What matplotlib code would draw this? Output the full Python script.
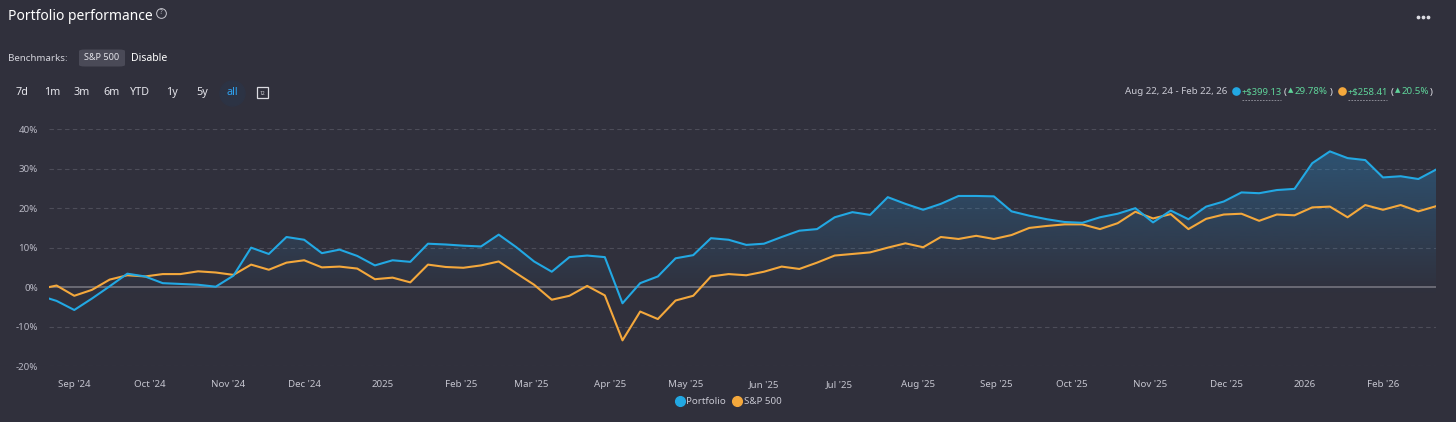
import numpy as np
import pandas as pd
import matplotlib
matplotlib.use("Agg")
import matplotlib.pyplot as plt
import matplotlib.dates as mdates
from matplotlib.lines import Line2D
from matplotlib.patches import FancyBboxPatch, Rectangle

plt.rcParams['font.family'] = ['Noto Sans', 'DejaVu Sans']

# weekly points (Sundays) plus the start and end of the selected range
dates = ([pd.Timestamp("2024-08-22")]
         + list(pd.date_range("2024-08-25", "2026-02-15", freq="7D"))
         + [pd.Timestamp("2026-02-22")])

portfolio = [-2.9, -3.5, -5.8, -2.9, 0.2, 3.4, 2.7, 1.0, 0.8, 0.6,
             0.1, 2.9, 10.0, 8.4, 12.7, 12.0, 8.6, 9.5, 7.9, 5.5,
             6.8, 6.4, 11.0, 10.8, 10.5, 10.3, 13.3, 10.1, 6.5, 3.9,
             7.6, 8.0, 7.6, -4.1, 1.0, 2.7, 7.3, 8.1, 12.4, 12.0,
             10.7, 11.0, 12.7, 14.3, 14.7, 17.7, 19.0, 18.3, 22.8, 21.1,
             19.6, 21.1, 23.1, 23.1, 23.0, 19.2, 18.1, 17.2, 16.5, 16.3,
             17.7, 18.6, 20.0, 16.4, 19.4, 17.2, 20.4, 21.7, 24.0, 23.8,
             24.6, 24.9, 31.4, 34.4, 32.7, 32.2, 27.8, 28.1, 27.4, 29.78]

sp500 = [0.0, 0.4, -2.2, -0.7, 1.9, 3.0, 2.7, 3.3, 3.3, 4.0,
         3.7, 3.1, 5.7, 4.4, 6.2, 6.8, 5.0, 5.2, 4.7, 2.0,
         2.4, 1.2, 5.7, 5.1, 4.9, 5.5, 6.5, 3.5, 0.6, -3.2,
         -2.2, 0.3, -2.1, -13.5, -6.2, -8.1, -3.4, -2.2, 2.7, 3.3,
         3.0, 3.9, 5.2, 4.6, 6.2, 8.0, 8.4, 8.8, 10.0, 11.1,
         10.1, 12.7, 12.2, 13.0, 12.2, 13.2, 15.0, 15.5, 15.9, 15.9,
         14.7, 16.2, 19.1, 17.4, 18.5, 14.7, 17.3, 18.4, 18.6, 16.8,
         18.4, 18.2, 20.2, 20.4, 17.7, 20.8, 19.6, 20.8, 19.2, 20.5]

y_ticks = [-20, -10, 0, 10, 20, 30, 40]
month_ticks = pd.date_range("2024-09-01", "2026-02-01", freq="MS")
ranges = ["7d", "1m", "3m", "6m", "YTD", "1y", "5y", "all"]
range_x = [22, 52, 82, 112, 140, 172, 202, 232]

BG = "#30303c"
BLUE = "#22a8e3"
ORANGE = "#f4a83c"
GREEN = "#5fd49a"
W, H = 1456, 422


def fx(px):
    return px / W


def fy(py):
    return 1 - py / H


def dot(px, py, size, **kw):
    # round marker placed in figure pixels
    fig.lines.append(Line2D([fx(px)], [fy(py)], ls="", marker="o", ms=size,
                            transform=fig.transFigure, **kw))


fig = plt.figure(figsize=(W / 100, H / 100), dpi=100, facecolor=BG)
ax = fig.add_axes([fx(49), fy(366), (1436 - 49) / W, (366 - 129.3) / H])
ax.set_facecolor(BG)

x = mdates.date2num(dates)
ax.set_xlim(x[0], x[-1])
ax.set_ylim(-20, 40)

# gradient area under the portfolio line
poly = ax.fill_between(x, portfolio, -20, color="none", lw=0)
yy = np.linspace(-20, 40, 300)
alpha = np.clip((yy + 2) / 42 * 0.42, 0, 0.42)
rgba = np.zeros((300, 1, 4))
rgba[:, 0, :3] = matplotlib.colors.to_rgb("#2a8fd0")
rgba[:, 0, 3] = alpha
img = ax.imshow(rgba, extent=[x[0], x[-1], -20, 40], origin="lower",
                aspect="auto", zorder=1)
img.set_clip_path(poly.get_paths()[0], transform=ax.transData)

for t in y_ticks:
    if t != 0:
        ax.axhline(t, color="#4d4d59", lw=0.8, ls=(0, (4, 3)), zorder=0)
ax.axhline(0, color="#74747e", lw=1.2, zorder=2)

ax.plot(x, sp500, color=ORANGE, lw=1.5, zorder=3)
ax.plot(x, portfolio, color=BLUE, lw=1.5, zorder=4)

ax.set_yticks(y_ticks)
ax.set_yticklabels([f"{t}%" for t in y_ticks])
ax.set_xticks(mdates.date2num(month_ticks))
xlabels = [d.strftime("%Y") if d.month == 1 else d.strftime("%b '%y") for d in month_ticks]
ax.set_xticklabels(xlabels)
for lbl, d in zip(ax.get_xticklabels(), month_ticks):
    if d.month == 1:
        lbl.set_color("#ececf2")
        lbl.set_fontweight("bold")
ax.tick_params(axis="y", length=0, pad=8, labelsize=7, labelcolor="#b8b8c4")
ax.tick_params(axis="x", length=0, pad=10, labelsize=7, labelcolor="#c4c4ce")
for s in ax.spines.values():
    s.set_visible(False)

# legend under the chart
handles = [Line2D([], [], ls="", marker="o", ms=7, color=BLUE),
           Line2D([], [], ls="", marker="o", ms=7, color=ORANGE)]
fig.legend(handles, ["Portfolio", "S&P 500"], loc="center",
           bbox_to_anchor=(fx(728), fy(402)), ncol=2, frameon=False,
           handletextpad=0.2, columnspacing=0.6, handlelength=1.0,
           fontsize=7, labelcolor="#c8c8d2")

# header: title and controls
fig.text(fx(8), fy(16), "Portfolio performance", fontsize=10, color="white",
         fontweight="semibold", va="center", ha="left")
dot(161, 13, 7, mfc="none", mec="#c8c8d0", mew=0.7)
fig.text(fx(161), fy(13), "?", fontsize=4.5, color="#c8c8d0", ha="center", va="center")
for px in (1418, 1423, 1428):
    dot(px, 17, 1.7, color="#dcdce2")

fig.text(fx(8), fy(58.5), "Benchmarks:", fontsize=7, color="#d4d4dc", va="center")
fig.patches.append(FancyBboxPatch((fx(79), fy(66.5)), 46 / W, 17 / H,
                                  boxstyle="round,pad=0,rounding_size=0.004",
                                  transform=fig.transFigure, fc="#4a4a57", ec="none"))
fig.text(fx(102), fy(57.5), "S&P 500", fontsize=6.5, color="#e4e4ea",
         fontweight="semibold", ha="center", va="center")
fig.text(fx(131), fy(58.5), "Disable", fontsize=7.5, color="white",
         fontweight="semibold", va="center")

dot(232, 92.5, 18, color="#2c3344")
for lab, px in zip(ranges, range_x):
    col = "#2ea3f2" if lab == "all" else "#e6e6ec"
    fig.text(fx(px), fy(92.5), lab, fontsize=7.8, color=col, fontweight="bold",
             ha="center", va="center")
fig.patches.append(Rectangle((fx(257), fy(98)), 11 / W, 11 / H, transform=fig.transFigure,
                             fill=False, ec="#dcdce2", lw=0.9))
fig.text(fx(262.5), fy(93.5), "12", fontsize=3.5, color="#dcdce2", ha="center",
         va="center", fontweight="bold")

# header: range summary
fig.text(fx(1125), fy(92), "Aug 22, 24 - Feb 22, 26", fontsize=7, color="#c8c8d2", va="center")
dot(1235.5, 91, 5.2, color=BLUE)
fig.text(fx(1242), fy(92), "+$399.13", fontsize=6.8, color=GREEN, va="center")
fig.lines.append(Line2D([fx(1242), fx(1281)], [fy(99.5), fy(99.5)], transform=fig.transFigure,
                        color="#9a9aa4", lw=0.6, ls=(0, (2, 1.5))))
fig.text(fx(1283.5), fy(92), "(", fontsize=7, color="#e0e0e6", va="center")
fig.text(fx(1287.5), fy(91), "▲", fontsize=5, color=GREEN, va="center")
fig.text(fx(1295), fy(92), "29.78%", fontsize=7, color=GREEN, va="center")
fig.text(fx(1329.5), fy(92), ")", fontsize=7, color="#e0e0e6", va="center")
dot(1342, 91, 5.2, color=ORANGE)
fig.text(fx(1348), fy(92), "+$258.41", fontsize=6.8, color=GREEN, va="center")
fig.lines.append(Line2D([fx(1348), fx(1387)], [fy(99.5), fy(99.5)], transform=fig.transFigure,
                        color="#9a9aa4", lw=0.6, ls=(0, (2, 1.5))))
fig.text(fx(1390.5), fy(92), "(", fontsize=7, color="#e0e0e6", va="center")
fig.text(fx(1394.5), fy(91), "▲", fontsize=5, color=GREEN, va="center")
fig.text(fx(1402), fy(92), "20.5%", fontsize=7, color=GREEN, va="center")
fig.text(fx(1429.5), fy(92), ")", fontsize=7, color="#e0e0e6", va="center")

fig.savefig("out.png", dpi=100, facecolor=BG)
